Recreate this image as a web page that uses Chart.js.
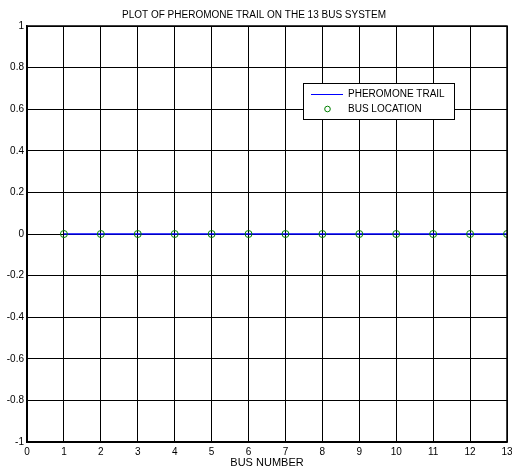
<!DOCTYPE html>
<html>
<head>
<meta charset="utf-8">
<script src="https://cdn.jsdelivr.net/npm/chart.js@4"></script>
<style>
  html, body { margin: 0; padding: 0; background: #fff; }
  #wrap { width: 512px; height: 470px; }
</style>
</head>
<body>
<div id="wrap"><canvas id="chart" width="512" height="470"></canvas></div>
<script>
  const busNumbers = [1, 2, 3, 4, 5, 6, 7, 8, 9, 10, 11, 12, 13];
  const pheromone = [0, 0, 0, 0, 0, 0, 0, 0, 0, 0, 0, 0, 0];
  const xTicks = [0, 1, 2, 3, 4, 5, 6, 7, 8, 9, 10, 11, 12, 13];
  const yTicks = [-1, -0.8, -0.6, -0.4, -0.2, 0, 0.2, 0.4, 0.6, 0.8, 1];

  const FONT = "'Liberation Sans', Arial, sans-serif";
  Chart.defaults.font.family = FONT;
  Chart.defaults.font.size = 10;
  Chart.defaults.color = "#000";

  const pts = busNumbers.map((b, i) => ({ x: b, y: pheromone[i] }));

  // box round the plot area, like matlab's axes
  const boxPlugin = {
    id: "box",
    afterDatasetsDraw(chart) {
      const a = chart.chartArea;
      const ctx = chart.ctx;
      ctx.save();
      ctx.strokeStyle = "#000";
      ctx.lineWidth = 1.5;
      ctx.strokeRect(a.left, a.top, a.right - a.left, a.bottom - a.top);
      ctx.restore();
    },
  };

  // legend drawn inside the plot, top right
  const legendPlugin = {
    id: "boxLegend",
    afterDraw(chart) {
      const ctx = chart.ctx;
      const ds = chart.data.datasets;
      const x = 303, y = 83, w = 151, h = 36;
      ctx.save();
      ctx.fillStyle = "#fff";
      ctx.fillRect(x, y, w, h);
      ctx.strokeStyle = "#000";
      ctx.lineWidth = 1;
      ctx.strokeRect(x + 0.5, y + 0.5, w, h);
      ctx.font = "10px " + FONT;
      ctx.textBaseline = "middle";
      ctx.fillStyle = "#000";
      // line entry
      ctx.strokeStyle = ds[0].borderColor;
      ctx.beginPath();
      ctx.moveTo(311, y + 11.5);
      ctx.lineTo(343, y + 11.5);
      ctx.stroke();
      ctx.fillText(ds[0].label, 348, y + 11);
      // marker entry
      ctx.strokeStyle = ds[1].borderColor;
      ctx.beginPath();
      ctx.arc(327.5, y + 26, 2.8, 0, Math.PI * 2);
      ctx.stroke();
      ctx.fillStyle = "#000";
      ctx.fillText(ds[1].label, 348, y + 26);
      ctx.restore();
    },
  };

  new Chart(document.getElementById("chart"), {
    type: "scatter",
    data: {
      datasets: [
        {
          label: "PHEROMONE TRAIL",
          data: pts,
          showLine: true,
          borderColor: "#0000ff",
          borderWidth: 1.5,
          pointRadius: 0,
          order: 2,
        },
        {
          label: "BUS LOCATION",
          data: pts,
          showLine: false,
          borderColor: "#008000",
          backgroundColor: "rgba(0,0,0,0)",
          borderWidth: 1,
          pointRadius: 3.5,
          order: 1,
        },
      ],
    },
    options: {
      responsive: false,
      animation: false,
      layout: { padding: { left: 0, right: 4, top: 0, bottom: 0 } },
      plugins: {
        legend: { display: false },
        tooltip: { enabled: false },
        title: {
          display: true,
          text: "PLOT OF PHEROMONE TRAIL ON THE 13 BUS SYSTEM",
          font: { size: 10, weight: "normal" },
          color: "#000",
          padding: { top: 9, bottom: 5 },
        },
      },
      scales: {
        x: {
          type: "linear",
          min: 0,
          max: 13,
          afterBuildTicks(axis) {
            axis.ticks = xTicks.map((v) => ({ value: v }));
          },
          afterFit(axis) {
            axis.height = 28;
            axis.paddingLeft = 0;
            axis.paddingRight = 0;
          },
          ticks: { padding: 4, maxRotation: 0 },
          grid: { color: "#000", lineWidth: 1, drawTicks: false },
          border: { color: "#000", width: 1.5 },
          title: {
            display: true,
            text: "BUS NUMBER",
            font: { size: 11 },
            padding: { top: 0, bottom: 0 },
          },
        },
        y: {
          type: "linear",
          min: -1,
          max: 1,
          afterBuildTicks(axis) {
            axis.ticks = yTicks.map((v) => ({ value: v }));
          },
          afterFit(axis) {
            axis.width = 27;
            axis.paddingTop = 0;
            axis.paddingBottom = 0;
          },
          ticks: {
            padding: 3,
            callback: (v) => String(Math.round(v * 10) / 10),
          },
          grid: { color: "#000", lineWidth: 1, drawTicks: false },
          border: { color: "#000", width: 1.5 },
        },
      },
    },
    plugins: [boxPlugin, legendPlugin],
  });
</script>
</body>
</html>
